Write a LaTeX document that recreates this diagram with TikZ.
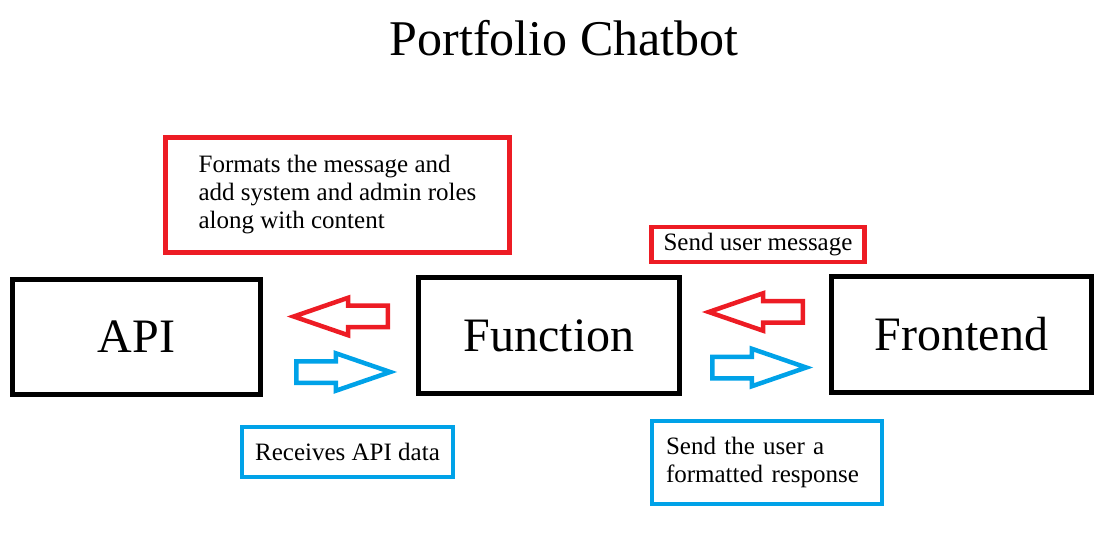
\documentclass[tikz,border=0pt]{standalone}
\usepackage{fontspec}
\setmainfont{Liberation Serif}
\usetikzlibrary{shapes.arrows}
\usetikzlibrary{positioning}

\definecolor{paintred}{HTML}{ED1C24}
\definecolor{paintblue}{HTML}{00A2E8}

\tikzset{
  block/.style={draw=black, line width=5pt, inner sep=0pt, font=\fontsize{48}{56}\selectfont},
  note/.style={line width=4.5pt, inner sep=0pt, align=left, font=\fontsize{25}{28}\selectfont},
  flow/.style={single arrow, anchor=tail, line width=4.5pt, inner xsep=0pt, inner ysep=8.5pt,
    minimum width=0pt, minimum height=94pt, single arrow head extend=8pt,
    single arrow tip angle=38},
}

\begin{document}
\begin{tikzpicture}[x=1pt, y=-1pt]

    \useasboundingbox (0,0) rectangle (1105,534);

    \node (Title) at (564,38) {\fontsize{50}{58}\selectfont Portfolio Chatbot};

    \node (API) [block, minimum width=248pt, minimum height=115pt] at (136.5,337) {API};
    \node (Function) [block, minimum width=261pt, minimum height=116pt] at (549,335.5) {Function};
    \node (Frontend) [block, minimum width=260pt, minimum height=116pt] at (961.5,334.5) {Frontend};

    \node (FormatNote) [note, draw=paintred, minimum width=344pt, minimum height=115pt] at (337.5,195)
      {Formats the message and\\add system and admin roles\\along with content};
    \node (SendNote) [note, draw=paintred, minimum width=213pt, minimum height=35pt] at (758,244.5)
      {Send user message};
    \node (ReceiveNote) [note, draw=paintblue, minimum width=211pt, minimum height=50pt] at (347.5,452)
      {Receives API data};
    \node (ResponseNote) [note, draw=paintblue, text width=202pt, minimum width=230pt, minimum height=83pt] at (767,462.5)
      {Send the user a\\formatted response};

    % hollow arrows between the blocks
    \node (ToAPI) [flow, draw=paintred, shape border rotate=180] at (390,316.5) {};
    \node (FromAPI) [flow, draw=paintblue] at (294,372) {};
    \node (ToFunction) [flow, draw=paintred, shape border rotate=180] at (805,312) {};
    \node (ToFrontend) [flow, draw=paintblue] at (710,367.5) {};

\end{tikzpicture}
\end{document}
